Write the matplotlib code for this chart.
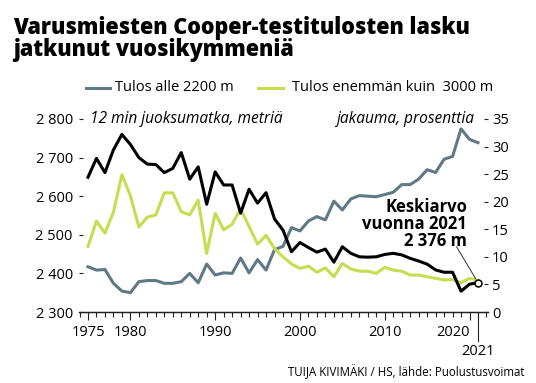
import matplotlib
matplotlib.use("Agg")
import matplotlib.pyplot as plt
from matplotlib.lines import Line2D
from matplotlib.ticker import FixedLocator, MultipleLocator

plt.rcParams['font.family'] = ['Open Sans', 'DejaVu Sans']

years = list(range(1975, 2022))

# keskiarvo, metriä (vasen akseli)
mean_m = [2649, 2698, 2661, 2720, 2760, 2734, 2700, 2683, 2682, 2661,
          2672, 2713, 2644, 2676, 2579, 2663, 2629, 2629, 2556, 2618,
          2582, 2609, 2541, 2512, 2456, 2480, 2467, 2455, 2463, 2429,
          2469, 2452, 2443, 2442, 2443, 2449, 2452, 2448, 2439, 2432,
          2424, 2409, 2403, 2403, 2354, 2372, 2376]

# tulos alle 2200 m, prosenttia (oikea akseli)
under_2200 = [8.2, 7.6, 7.7, 5.2, 3.8, 3.5, 5.5, 5.7, 5.7, 5.2,
              5.2, 5.5, 7.0, 5.3, 8.7, 6.7, 7.1, 7.0, 9.8, 7.1,
              9.5, 7.6, 11.3, 11.9, 15.3, 14.7, 16.5, 17.3, 16.7, 20.1,
              18.5, 20.5, 21.1, 21.0, 20.9, 21.3, 21.7, 23.1, 23.1, 24.1,
              25.8, 25.3, 27.7, 28.2, 33.2, 31.3, 30.7]

# tulos yli 3000 m, prosenttia (oikea akseli)
over_3000 = [11.9, 16.5, 14.3, 18.1, 24.9, 21.1, 15.4, 17.2, 17.6, 21.6,
             21.6, 18.2, 17.6, 20.3, 10.6, 17.9, 14.9, 15.9, 18.7, 15.5,
             12.3, 13.9, 11.5, 10.0, 8.7, 7.9, 8.3, 7.2, 8.0, 6.4,
             8.8, 7.8, 7.4, 7.4, 7.0, 8.1, 7.6, 7.4, 6.7, 6.7,
             6.4, 6.1, 5.8, 5.9, 5.3, 6.1, 5.7]

left_ticks = [2300, 2400, 2500, 2600, 2700, 2800]
left_labels = ['2 300', '2 400', '2 500', '2 600', '2 700', '2 800']
right_ticks = [0, 5, 10, 15, 20, 25, 30, 35]
x_major = [1975, 1980, 1990, 2000, 2010, 2020]

GRAY = '#5f7985'
GREEN = '#c6dd4f'
AX = '#222222'

W, H = 536, 383
fig = plt.figure(figsize=(W / 100, H / 100), dpi=100)

ax = fig.add_axes([79 / W, 1 - 312 / H, (488 - 79) / W, (312 - 107) / H])
ax2 = ax.twinx()

y0, y1 = 2300, 2831
ax.set_ylim(y0, y1)
ax2.set_ylim(0, (y1 - y0) * 35 / 500)
ax.set_xlim(1973.94, 2022.18)

ax2.plot(years, under_2200, color=GRAY, lw=2.2, solid_joinstyle='round', zorder=2)
ax2.plot(years, over_3000, color=GREEN, lw=2.2, solid_joinstyle='round', zorder=2)
ax.set_zorder(ax2.get_zorder() + 1)
ax.patch.set_visible(False)
ax.plot(years, mean_m, color='black', lw=2.2, solid_joinstyle='round', zorder=3)
ax.plot(years[-1], mean_m[-1], 'o', ms=5, mfc='white', mec='black', mew=1.1, zorder=4)

for a in (ax, ax2):
    for s in ('top', 'left', 'right'):
        a.spines[s].set_visible(False)
    a.spines['bottom'].set_color(AX)
    a.spines['bottom'].set_linewidth(0.9)

ax.set_yticks(left_ticks)
ax.set_yticklabels(left_labels)
ax.tick_params(axis='y', direction='in', length=3.2, width=0.8, color=AX,
               pad=4.5, labelsize=10.5)
ax2.set_yticks(right_ticks)
ax2.tick_params(axis='y', direction='in', length=3.2, width=0.8, color=AX,
                pad=3, labelsize=10.5)

ax.xaxis.set_major_locator(FixedLocator(x_major))
ax.xaxis.set_minor_locator(MultipleLocator(1))
ax.tick_params(axis='x', which='major', direction='out', length=5.5, width=0.8,
               color=AX, pad=3.5, labelsize=10.5)
ax.tick_params(axis='x', which='minor', direction='out', length=3.6, width=0.8,
               color=AX)
labels = ax.set_xticklabels([str(y) for y in x_major])
labels[-1].set_horizontalalignment('right')
labels[-1].set_x(2020.45)

# vuoden 2021 pitkä merkkiviiva
ax.plot([2021, 2021], [0, -0.14], color=AX, lw=0.8,
        transform=ax.get_xaxis_transform(), clip_on=False)
ax.text(2021, -0.158, '2021', transform=ax.get_xaxis_transform(),
        ha='center', va='top', fontsize=10.5)

ax.text(1975.2, 2800, '12 min juoksumatka, metriä', style='italic',
        fontsize=11.2, va='center')
ax.text(2020.6, 2800, 'jakauma, prosenttia', style='italic',
        fontsize=11.2, va='center', ha='right')

# keskiarvon selite
ax.annotate('', xy=(years[-1], mean_m[-1]), xytext=(-15.5, 26),
            textcoords='offset points',
            arrowprops=dict(arrowstyle='-', color='#333333', lw=0.7,
                            shrinkA=0, shrinkB=3))
for txt, yb in (('Keskiarvo', 211.5), ('vuonna 2021', 228.5), ('2 376 m', 245.5)):
    fig.text(467 / W, 1 - yb / H, txt, ha='right', va='baseline',
             fontsize=12, fontweight='bold')

# otsikko
fig.text(13 / W, 1 - 34 / H, 'Varusmiesten Cooper-testitulosten lasku',
         fontsize=15.5, fontweight=800, va='baseline')
fig.text(13 / W, 1 - 56 / H, 'jatkunut vuosikymmeniä',
         fontsize=15.5, fontweight=800, va='baseline')

# selite
ly = 1 - 88 / H
fig.add_artist(Line2D([86 / W, 110 / W], [ly, ly], color=GRAY, lw=2.2))
fig.text(115 / W, 1 - 91 / H, 'Tulos alle 2200 m', fontsize=10.5, va='baseline')
fig.add_artist(Line2D([258 / W, 283 / W], [ly, ly], color=GREEN, lw=2.2))
fig.text(292 / W, 1 - 91 / H, 'Tulos enemmän kuin  3000 m', fontsize=10.5,
         va='baseline')

fig.text(524 / W, 1 - 376 / H, 'TUIJA KIVIMÄKI / HS, lähde: Puolustusvoimat',
         fontsize=8.3, ha='right', va='baseline')

fig.savefig('out.png', dpi=100)
